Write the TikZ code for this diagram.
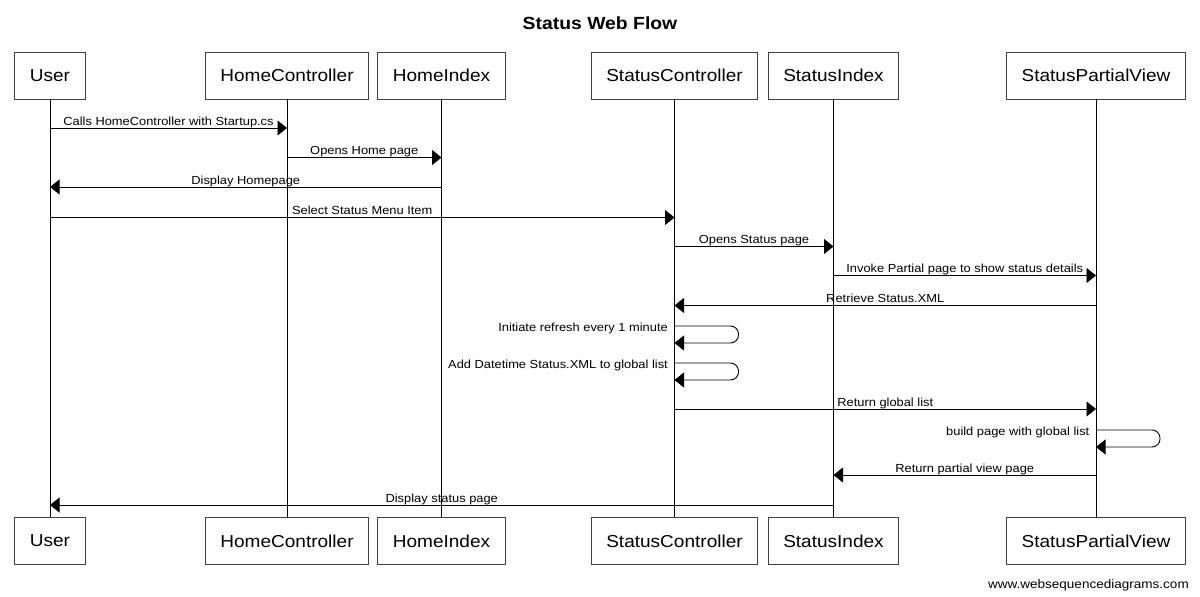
\documentclass[tikz,border=0pt]{standalone}
\usepackage{fontspec}
\setmainfont{Liberation Sans}[FakeStretch=1.1]
\usetikzlibrary{arrows.meta}
\begin{document}
\begin{tikzpicture}[x=1pt,y=-1pt,
  part/.style={draw=black!75, line width=0.9pt, minimum height=47pt, inner xsep=15pt, fill=white, font=\fontsize{17.3}{20}\selectfont},
  life/.style={line width=0.9pt},
  msg/.style={line width=0.9pt, -{Triangle[length=9.5pt,width=15pt]}},
  lbl/.style={font=\fontsize{11.7}{13}\selectfont, inner sep=0pt, anchor=base, yshift=3pt},
  slbl/.style={font=\fontsize{11.7}{13}\selectfont, inner sep=0pt, anchor=base east},
]
\useasboundingbox (0,0) rectangle (1200,597);
\node[anchor=base, font=\fontsize{17.6}{20}\selectfont\bfseries] (title) at (600,30) {Status Web Flow};

% participants (top)
\node[part] (user) at (50,75.5) {User};
\node[part] (hc) at (287,75.5) {HomeController};
\node[part] (hi) at (441.5,75.5) {HomeIndex};
\node[part] (sc) at (674.5,75.5) {StatusController};
\node[part] (si) at (833.5,75.5) {StatusIndex};
\node[part] (spv) at (1096,75.5) {StatusPartialView};
% participants (bottom)
\node[part] (userB) at (50,541) {User};
\node[part] (hcB) at (287,541) {HomeController};
\node[part] (hiB) at (441.5,541) {HomeIndex};
\node[part] (scB) at (674.5,541) {StatusController};
\node[part] (siB) at (833.5,541) {StatusIndex};
\node[part] (spvB) at (1096,541) {StatusPartialView};

% lifelines
\draw[life] (user) -- (userB);
\draw[life] (hc) -- (hcB);
\draw[life] (hi) -- (hiB);
\draw[life] (sc) -- (scB);
\draw[life] (si) -- (siB);
\draw[life] (spv) -- (spvB);

% message rows
\coordinate (y1) at (0,128);
\coordinate (y2) at (0,157.5);
\coordinate (y3) at (0,187);
\coordinate (y4) at (0,217.5);
\coordinate (y5) at (0,246.5);
\coordinate (y6) at (0,275.5);
\coordinate (y7) at (0,305.5);
\coordinate (s1) at (0,326);
\coordinate (s2) at (0,363);
\coordinate (y8) at (0,409);
\coordinate (s3) at (0,430);
\coordinate (y9) at (0,475);
\coordinate (y10) at (0,505);

\draw[msg] (user |- y1) -- node[lbl] {Calls HomeController with Startup.cs} (hc |- y1);
\draw[msg] (hc |- y2) -- node[lbl] {Opens Home page} (hi |- y2);
\draw[msg] (hi |- y3) -- node[lbl] {Display Homepage} (user |- y3);
\draw[msg] (user |- y4) -- node[lbl] {Select Status Menu Item} (sc |- y4);
\draw[msg] (sc |- y5) -- node[lbl] {Opens Status page} (si |- y5);
\draw[msg] (si |- y6) -- node[lbl] {Invoke Partial page to show status details} (spv |- y6);
\draw[msg] (spv |- y7) -- node[lbl] {Retrieve Status.XML} (sc |- y7);

\draw[msg, rounded corners=8pt] (sc |- s1) -- ++(64,0) -- ++(0,17) -- ++(-64,0);
\node[slbl] (l1) at ([xshift=-6.5pt,yshift=-5.5pt]sc |- s1) {Initiate refresh every 1 minute};
\draw[msg, rounded corners=8pt] (sc |- s2) -- ++(64,0) -- ++(0,17) -- ++(-64,0);
\node[slbl] (l2) at ([xshift=-6.5pt,yshift=-5.5pt]sc |- s2) {Add Datetime Status.XML to global list};

\draw[msg] (sc |- y8) -- node[lbl] {Return global list} (spv |- y8);

\draw[msg, rounded corners=8pt] (spv |- s3) -- ++(64,0) -- ++(0,17) -- ++(-64,0);
\node[slbl] (l3) at ([xshift=-6.5pt,yshift=-5.5pt]spv |- s3) {build page with global list};

\draw[msg] (spv |- y9) -- node[lbl] {Return partial view page} (si |- y9);
\draw[msg] (si |- y10) -- node[lbl] {Display status page} (user |- y10);

\node[anchor=base east, inner sep=0pt, font=\fontsize{12.3}{14}\selectfont] (wm) at (1189,588) {www.websequencediagrams.com};
\end{tikzpicture}
\end{document}
